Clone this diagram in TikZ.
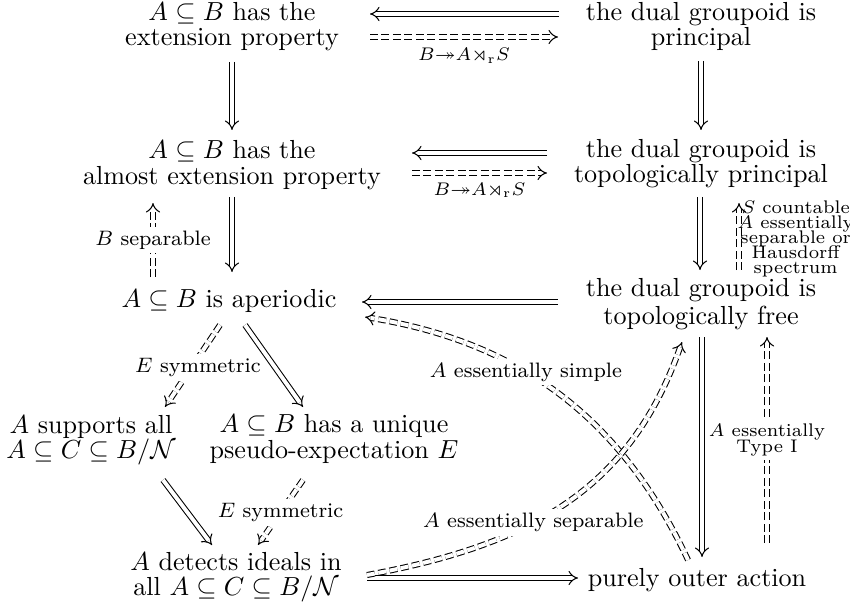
\documentclass[tikz,border=0pt]{standalone}
\usepackage{amssymb}
\usetikzlibrary{arrows.meta,calc}
\newcommand\twol[3][9.8pt]{\setbox0=\hbox{#2}\setbox2=\hbox{#3}%
  \ifdim\wd0<\wd2 \setbox0=\hbox to\wd2{\hss\unhbox0\hss}\else\setbox2=\hbox to\wd0{\hss\unhbox2\hss}\fi
  \vbox{\baselineskip=#1\lineskiplimit=-20pt\box0\box2}}
\newcommand\cln[1]{\hbox to 41pt{\hss#1\hss}}
\tikzset{
  txt/.style={inner sep=0pt, anchor=base},
  imp/.style={double, double distance=1.5pt, line width=0.4pt, -{Implies}},
  dimp/.style={imp, dash pattern=on 3pt off 1.4pt},
  lbl/.style={font=\footnotesize, fill=white, inner sep=1.5pt},
  slbl/.style={font=\scriptsize, inner sep=1.5pt},
  mlbl/.style={inner sep=1.5pt},
}
\begin{document}
\begin{tikzpicture}[x=0.383pt,y=-0.383pt]
\useasboundingbox (0,0) rectangle (850,608);
% nodes
\node[txt] (N1) at (232,46) {\twol{$A\subseteq B$ has the}{extension property}};
\node[txt] (N2) at (701,46) {\twol{the dual groupoid is}{principal}};
\node[txt] (N3) at (232,184) {\twol{$A\subseteq B$ has the}{almost extension property}};
\node[txt] (N4) at (701,183) {\twol{the dual groupoid is}{topologically principal}};
\node[txt] (N5) at (229,307) {$A\subseteq B$ is aperiodic};
\node[txt] (N6) at (701,324) {\twol[10.7pt]{the dual groupoid is}{topologically free}};
\node[txt] (N7) at (91,458) {\twol[9.4pt]{$A$ supports all}{$A\subseteq C\subseteq B/\mathcal{N}$}};
\node[txt] (N8) at (334,458) {\twol[9.6pt]{$A\subseteq B$ has a unique}{pseudo-expectation $E$}};
\node[txt] (N9) at (236,595) {\twol[9.4pt]{$A$ detects ideals in}{all $A\subseteq C\subseteq B/\mathcal{N}$}};
\node[txt] (N10) at (697,586) {purely outer action};
% top row
\draw[imp] ($(N2.base)+(-142,-32)$) -- ($(N1.base)+(138,-32)$);
\draw[dimp] ($(N1.base)+(138,-9)$) -- ($(N2.base)+(-143,-9)$)
  node[mlbl, midway, below, yshift=-2.5pt] {$\scriptstyle B\twoheadrightarrow A\rtimes_{\mathrm{r}} S$};
% verticals
\draw[imp] ($(N1.base)+(0,16)$) -- ($(N3.base)+(0,-54)$);
\draw[imp] ($(N2.base)+(0,15)$) -- ($(N4.base)+(0,-53)$);
% second row
\draw[imp] ($(N4.base)+(-154,-30)$) -- ($(N3.base)+(180,-31)$);
\draw[dimp] ($(N3.base)+(180,-11)$) -- ($(N4.base)+(-154,-10)$)
  node[mlbl, midway, below, yshift=-2pt] {$\scriptstyle B\twoheadrightarrow A\rtimes_{\mathrm{r}} S$};
\draw[imp] ($(N3.base)+(0,13)$) -- ($(N5.base)+(3,-35)$);
\draw[dimp] ($(N5.base)+(-76,-30)$) -- ($(N3.base)+(-79,19)$)
  node[lbl, midway] {$B$ separable};
\draw[imp] ($(N4.base)+(-1,14)$) -- ($(N6.base)+(-1,-54)$);
\draw[dimp] ($(N6.base)+(38,-54)$) -- ($(N4.base)+(38,20)$)
  node[slbl, midway, right, inner sep=1pt, yshift=-1pt] {\vbox{\baselineskip=5.8pt\lineskiplimit=-20pt
    \cln{$S$ countable}\cln{$A$ essentially}\cln{separable or}\cln{Hausdorff}\cln{spectrum}}};
% third row
\draw[imp] ($(N6.base)+(-143,-22)$) -- ($(N5.base)+(133,-5)$);
\draw[imp] ($(N6.base)+(1,13)$) -- ($(N10.base)+(5,-29)$);
\draw[dimp] ($(N10.base)+(70,-43)$) -- ($(N6.base)+(66,13)$)
  node[slbl, fill=white, midway] {\twol[5.8pt]{$A$ essentially}{Type I}};
% diagonals
\draw[dimp] ($(N5.base)+(-9,18)$) -- ($(N7.base)+(74,-51)$)
  node[lbl, pos=0.52, xshift=2.5pt] {$E$ symmetric};
\draw[imp] ($(N5.base)+(16,18)$) -- ($(N8.base)+(-31,-51)$);
\draw[imp] ($(N7.base)+(72,22)$) -- ($(N9.base)+(-24,-50)$);
\draw[dimp] ($(N8.base)+(-31,22)$) -- ($(N9.base)+(22,-50)$)
  node[lbl, midway] {$E$ symmetric};
% bottom
\draw[imp] ($(N9.base)+(131,-17)$) -- ($(N10.base)+(-119,-8)$);
% curves
\draw[dimp] ($(N10.base)+(-9,-26)$) .. controls +(-67,-143) and +(154,25) .. ($(N5.base)+(136,10)$)
  node[lbl, pos=0.6] {$A$ essentially simple};
\draw[dimp] ($(N9.base)+(131,-20)$) .. controls +(163,-30) and +(-52,148) .. ($(N6.base)+(-19,18)$)
  node[lbl, pos=0.4] {$A$ essentially separable};
\end{tikzpicture}
\end{document}
